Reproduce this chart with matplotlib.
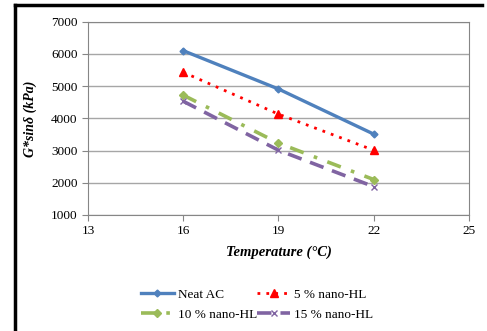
import matplotlib.pyplot as plt
from matplotlib.lines import Line2D

# Data
temperature = [16, 19, 22]
neat_ac = [6100, 4910, 3510]
nano_hl_5 = [5430, 4130, 3010]
nano_hl_10 = [4720, 3230, 2100]
nano_hl_15 = [4530, 3010, 1880]

x_ticks = [13, 16, 19, 22, 25]
y_ticks = [1000, 2000, 3000, 4000, 5000, 6000, 7000]

plt.rcParams['font.family'] = ['Liberation Serif', 'DejaVu Serif']

fig = plt.figure(figsize=(4.87, 3.31), dpi=100)
ax = fig.add_axes([0.1807, 0.3505, 0.7823, 0.584])

l1, = ax.plot(temperature, neat_ac, color='#4F81BD', lw=2.4, marker='D', ms=3.5,
              label='Neat AC')
l2, = ax.plot(temperature, nano_hl_5, color='#FF0000', lw=2.0, ls=(0, (1, 2.2)),
              marker='^', ms=6, label='5 % nano-HL')
l3, = ax.plot(temperature, nano_hl_10, color='#9BBB59', lw=2.6, ls=(0, (4, 3, 1, 3)),
              marker='D', ms=4, label='10 % nano-HL')
l4, = ax.plot(temperature, nano_hl_15, color='#8064A2', lw=2.6, ls=(0, (4, 2.5)),
              marker='x', ms=5, mew=1, label='15 % nano-HL')

ax.set_xlim(13, 25)
ax.set_ylim(1000, 7000)
ax.set_xticks(x_ticks)
ax.set_yticks(y_ticks)
ax.yaxis.grid(True, color='#A6A6A6', lw=1)
ax.set_axisbelow(True)
for s in ax.spines.values():
    s.set_color('#868686')
ax.tick_params(labelsize=9.5, colors='#868686', labelcolor='black', length=4,
               direction='out')

ax.set_xlabel('Temperature (°C)', fontsize=10.5, fontweight='bold', style='italic',
              labelpad=6)
ax.set_ylabel('G*sinδ (kPa)', fontsize=10, fontweight='bold', style='italic',
              labelpad=10)

# row-wise order: Neat AC, 5 % / 10 %, 15 %
fig.legend([l1, l3, l2, l4], [l1.get_label(), l3.get_label(), l2.get_label(), l4.get_label()],
           loc='center', bbox_to_anchor=(0.528, 0.08), ncol=2, frameon=False,
           fontsize=9.5, handlelength=2.5, columnspacing=0.0,
           handletextpad=0.3, labelspacing=0.6)

# outer frame (top and left only)
fig.add_artist(Line2D([0.031, 0.99], [0.985, 0.985], color='black', lw=2.5))
fig.add_artist(Line2D([0.031, 0.031], [0.0, 0.985], color='black', lw=2.5))

fig.savefig('out.png', dpi=100)
